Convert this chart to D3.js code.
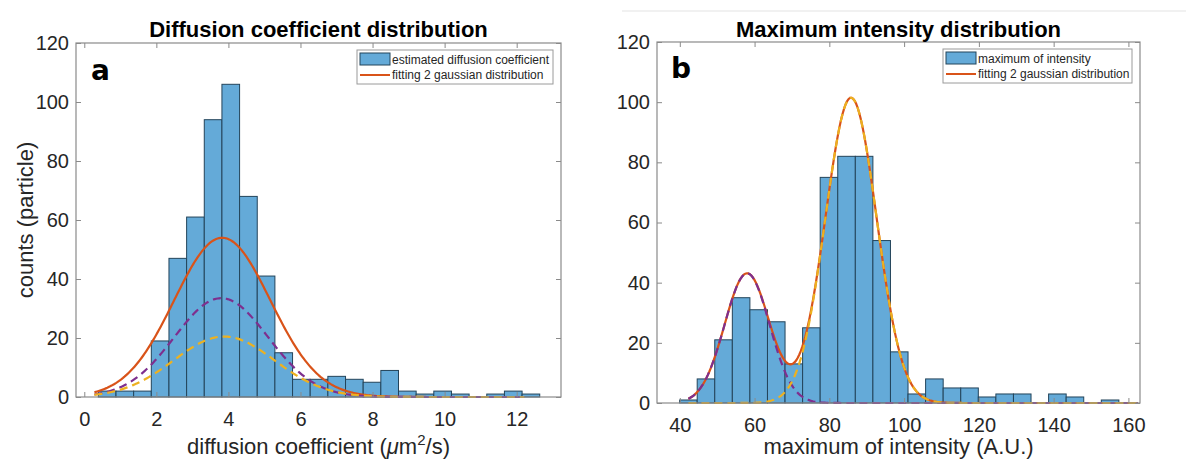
<!DOCTYPE html>
<html>
<head>
<meta charset="utf-8">
<script src="https://cdn.jsdelivr.net/npm/d3@7"></script>
<style>
  body { margin: 0; background: #fff; }
  svg { font-family: "Liberation Sans", Arial, Helvetica, sans-serif; }
  .tick text { fill: #262626; font-size: 20px; }
  .tick line { stroke: #8a8a8a; }
</style>
</head>
<body>
<svg id="chart" width="1186" height="460"></svg>
<script>
// ---- panel a : diffusion coefficient
var diffEdges = [0.39, 0.88, 1.37, 1.86, 2.35, 2.84, 3.33, 3.82, 4.31, 4.80, 5.29, 5.78, 6.27,
                 6.76, 7.25, 7.74, 8.23, 8.72, 9.21, 9.70, 10.19, 10.68, 11.17, 11.66, 12.15, 12.64];
var diffCounts = [2, 2, 2, 19, 47, 61, 94, 106, 68, 41, 15, 6, 6, 7, 6, 5, 9, 2, 1, 2, 1, 0, 1, 2, 1];
// two fitted gaussian components (purple, yellow)
var diffFitAmp = [33.5, 20.5];
var diffFitMean = [3.80, 3.88];
var diffFitSigma = [1.30, 1.40];
var diffFitRange = [0.28, 12.21];
var diffTicks = [0, 2, 4, 6, 8, 10, 12];

// ---- panel b : maximum of intensity
var intEdges = [39.95, 44.65, 49.35, 54.05, 58.75, 63.45, 68.15, 72.85, 77.55, 82.25, 86.95, 91.65, 96.35,
                101.05, 105.75, 110.45, 115.15, 119.85, 124.55, 129.25, 133.95, 138.65, 143.35, 148.05, 152.75, 157.45];
var intCounts = [1, 8, 21, 35, 31, 27, 13, 25, 75, 82, 82, 54, 17, 3, 8, 5, 5, 2, 3, 3, 0, 3, 2, 0, 1];
var intFitAmp = [43.1, 101.5];
var intFitMean = [58.0, 85.8];
var intFitSigma = [6.0, 6.85];
var intFitRange = [42.3, 162.5];
var intTicks = [40, 60, 80, 100, 120, 140, 160];

var countTicks = [0, 20, 40, 60, 80, 100, 120];

var barFill = "#64aad8", barStroke = "#23445a";
var sumColor = "#d95319", c1Color = "#7e2f8e", c2Color = "#edb120";

var svg = d3.select("#chart");

// faint rule across the top of panel b
svg.append("line")
    .attr("x1", 622).attr("x2", 1186).attr("y1", 11).attr("y2", 11)
    .attr("stroke", "#e3e3e3");

function gauss(a, m, s, x) {
    return a * Math.exp(-(x - m) * (x - m) / (2 * s * s));
}

function drawPanel(p) {
    var x = d3.scaleLinear().domain(p.xDomain).range([p.left, p.right]);
    var y = d3.scaleLinear().domain([0, 120]).range([p.bottom, p.top]);
    var g = svg.append("g");

    // bars
    var bins = p.counts.map(function(c, i) { return {x0: p.edges[i], x1: p.edges[i + 1], n: c}; })
        .filter(function(d) { return d.n > 0; });
    g.selectAll("rect.bar").data(bins).enter().append("rect")
        .attr("class", "bar")
        .attr("x", function(d) { return x(d.x0); })
        .attr("width", function(d) { return x(d.x1) - x(d.x0); })
        .attr("y", function(d) { return y(d.n); })
        .attr("height", function(d) { return y(0) - y(d.n); })
        .attr("fill", barFill)
        .attr("stroke", barStroke)
        .attr("stroke-width", 1);

    // fitted curves
    var xs = d3.range(p.fitRange[0], p.fitRange[1], (p.fitRange[1] - p.fitRange[0]) / 300).concat([p.fitRange[1]]);
    var line = d3.line()
        .x(function(d) { return x(d[0]); })
        .y(function(d) { return y(d[1]); });
    var comp = function(k) {
        return xs.map(function(v) { return [v, gauss(p.amp[k], p.mean[k], p.sigma[k], v)]; });
    };
    var total = xs.map(function(v) {
        return [v, gauss(p.amp[0], p.mean[0], p.sigma[0], v) + gauss(p.amp[1], p.mean[1], p.sigma[1], v)];
    });

    g.append("path").datum(total).attr("d", line)
        .attr("fill", "none").attr("stroke", sumColor).attr("stroke-width", 2.2);
    g.append("path").datum(comp(0)).attr("d", line)
        .attr("fill", "none").attr("stroke", c1Color).attr("stroke-width", 2.2)
        .attr("stroke-dasharray", "8,5");
    g.append("path").datum(comp(1)).attr("d", line)
        .attr("fill", "none").attr("stroke", c2Color).attr("stroke-width", 2.2)
        .attr("stroke-dasharray", "8,5");

    // axes box
    g.append("rect")
        .attr("x", p.left).attr("y", p.top)
        .attr("width", p.right - p.left).attr("height", p.bottom - p.top)
        .attr("fill", "none").attr("stroke", "#8a8a8a").attr("stroke-width", 1.2);

    g.append("g").attr("transform", "translate(0," + p.bottom + ")")
        .call(d3.axisBottom(x).tickValues(p.xTicks).tickSize(-5).tickSizeOuter(0).tickPadding(15))
        .call(function(a) { a.select(".domain").remove(); });
    g.append("g").attr("transform", "translate(0," + p.top + ")")
        .call(d3.axisTop(x).tickValues(p.xTicks).tickSize(-5).tickSizeOuter(0).tickFormat(""))
        .call(function(a) { a.select(".domain").remove(); });
    g.append("g").attr("transform", "translate(" + p.left + ",0)")
        .call(d3.axisLeft(y).tickValues(countTicks).tickSize(-5).tickSizeOuter(0).tickPadding(7))
        .call(function(a) { a.select(".domain").remove(); });
    g.append("g").attr("transform", "translate(" + p.right + ",0)")
        .call(d3.axisRight(y).tickValues(countTicks).tickSize(-5).tickSizeOuter(0).tickFormat(""))
        .call(function(a) { a.select(".domain").remove(); });

    // title
    g.append("text")
        .attr("x", (p.left + p.right) / 2).attr("y", 37)
        .attr("text-anchor", "middle")
        .attr("font-size", 22).attr("font-weight", "bold").attr("fill", "#000")
        .text(p.title);

    // x label
    var xl = g.append("text")
        .attr("x", (p.left + p.right) / 2).attr("y", 454)
        .attr("text-anchor", "middle")
        .attr("font-size", 22).attr("fill", "#262626");
    p.xLabel(xl);

    // panel letter
    g.append("text")
        .attr("x", p.letterX).attr("y", p.letterY)
        .attr("font-size", 28).attr("font-weight", "bold").attr("fill", "#000")
        .attr("font-family", "'DejaVu Sans', 'Liberation Sans', Arial, sans-serif")
        .text(p.letter);

    // legend
    var L = p.legend;
    var lg = g.append("g");
    lg.append("rect")
        .attr("x", L.x).attr("y", L.y).attr("width", L.w).attr("height", 34)
        .attr("fill", "#fff").attr("stroke", "#9a9a9a").attr("stroke-width", 1);
    lg.append("rect")
        .attr("x", L.x + 3).attr("y", L.y + 3).attr("width", 30).attr("height", 12)
        .attr("fill", barFill).attr("stroke", barStroke);
    lg.append("line")
        .attr("x1", L.x + 3).attr("x2", L.x + 33)
        .attr("y1", L.y + 25).attr("y2", L.y + 25)
        .attr("stroke", sumColor).attr("stroke-width", 2);
    lg.append("text")
        .attr("x", L.x + 35).attr("y", L.y + 13.5)
        .attr("font-size", 12).attr("fill", "#262626")
        .text(L.labels[0]);
    lg.append("text")
        .attr("x", L.x + 35).attr("y", L.y + 28.5)
        .attr("font-size", 12).attr("fill", "#262626")
        .text(L.labels[1]);
}

drawPanel({
    left: 76, right: 561, top: 43, bottom: 397,
    xDomain: [-0.23, 13.23],
    edges: diffEdges, counts: diffCounts,
    amp: diffFitAmp, mean: diffFitMean, sigma: diffFitSigma, fitRange: diffFitRange,
    xTicks: diffTicks,
    title: "Diffusion coefficient distribution",
    xLabel: function(t) {
        t.append("tspan").text("diffusion coefficient (");
        t.append("tspan").attr("font-style", "italic").text("\u03bc");
        t.append("tspan").text("m");
        t.append("tspan").attr("font-size", 15).attr("dy", -9).text("2");
        t.append("tspan").attr("dy", 9).text("/s)");
    },
    letter: "a", letterX: 91, letterY: 80,
    legend: {x: 357, y: 50, w: 196,
             labels: ["estimated diffusion coefficient", "fitting 2 gaussian distribution"]}
});

drawPanel({
    left: 657, right: 1140, top: 42, bottom: 403,
    xDomain: [33.9, 163.1],
    edges: intEdges, counts: intCounts,
    amp: intFitAmp, mean: intFitMean, sigma: intFitSigma, fitRange: intFitRange,
    xTicks: intTicks,
    title: "Maximum intensity distribution",
    xLabel: function(t) { t.text("maximum of intensity (A.U.)"); },
    letter: "b", letterX: 671, letterY: 78,
    legend: {x: 943, y: 49, w: 189,
             labels: ["maximum of intensity", "fitting 2 gaussian distribution"]}
});

// y label, left panel only
svg.append("text")
    .attr("transform", "translate(33,220) rotate(-90)")
    .attr("text-anchor", "middle")
    .attr("font-size", 22).attr("fill", "#262626")
    .text("counts (particle)");
</script>
</body>
</html>
